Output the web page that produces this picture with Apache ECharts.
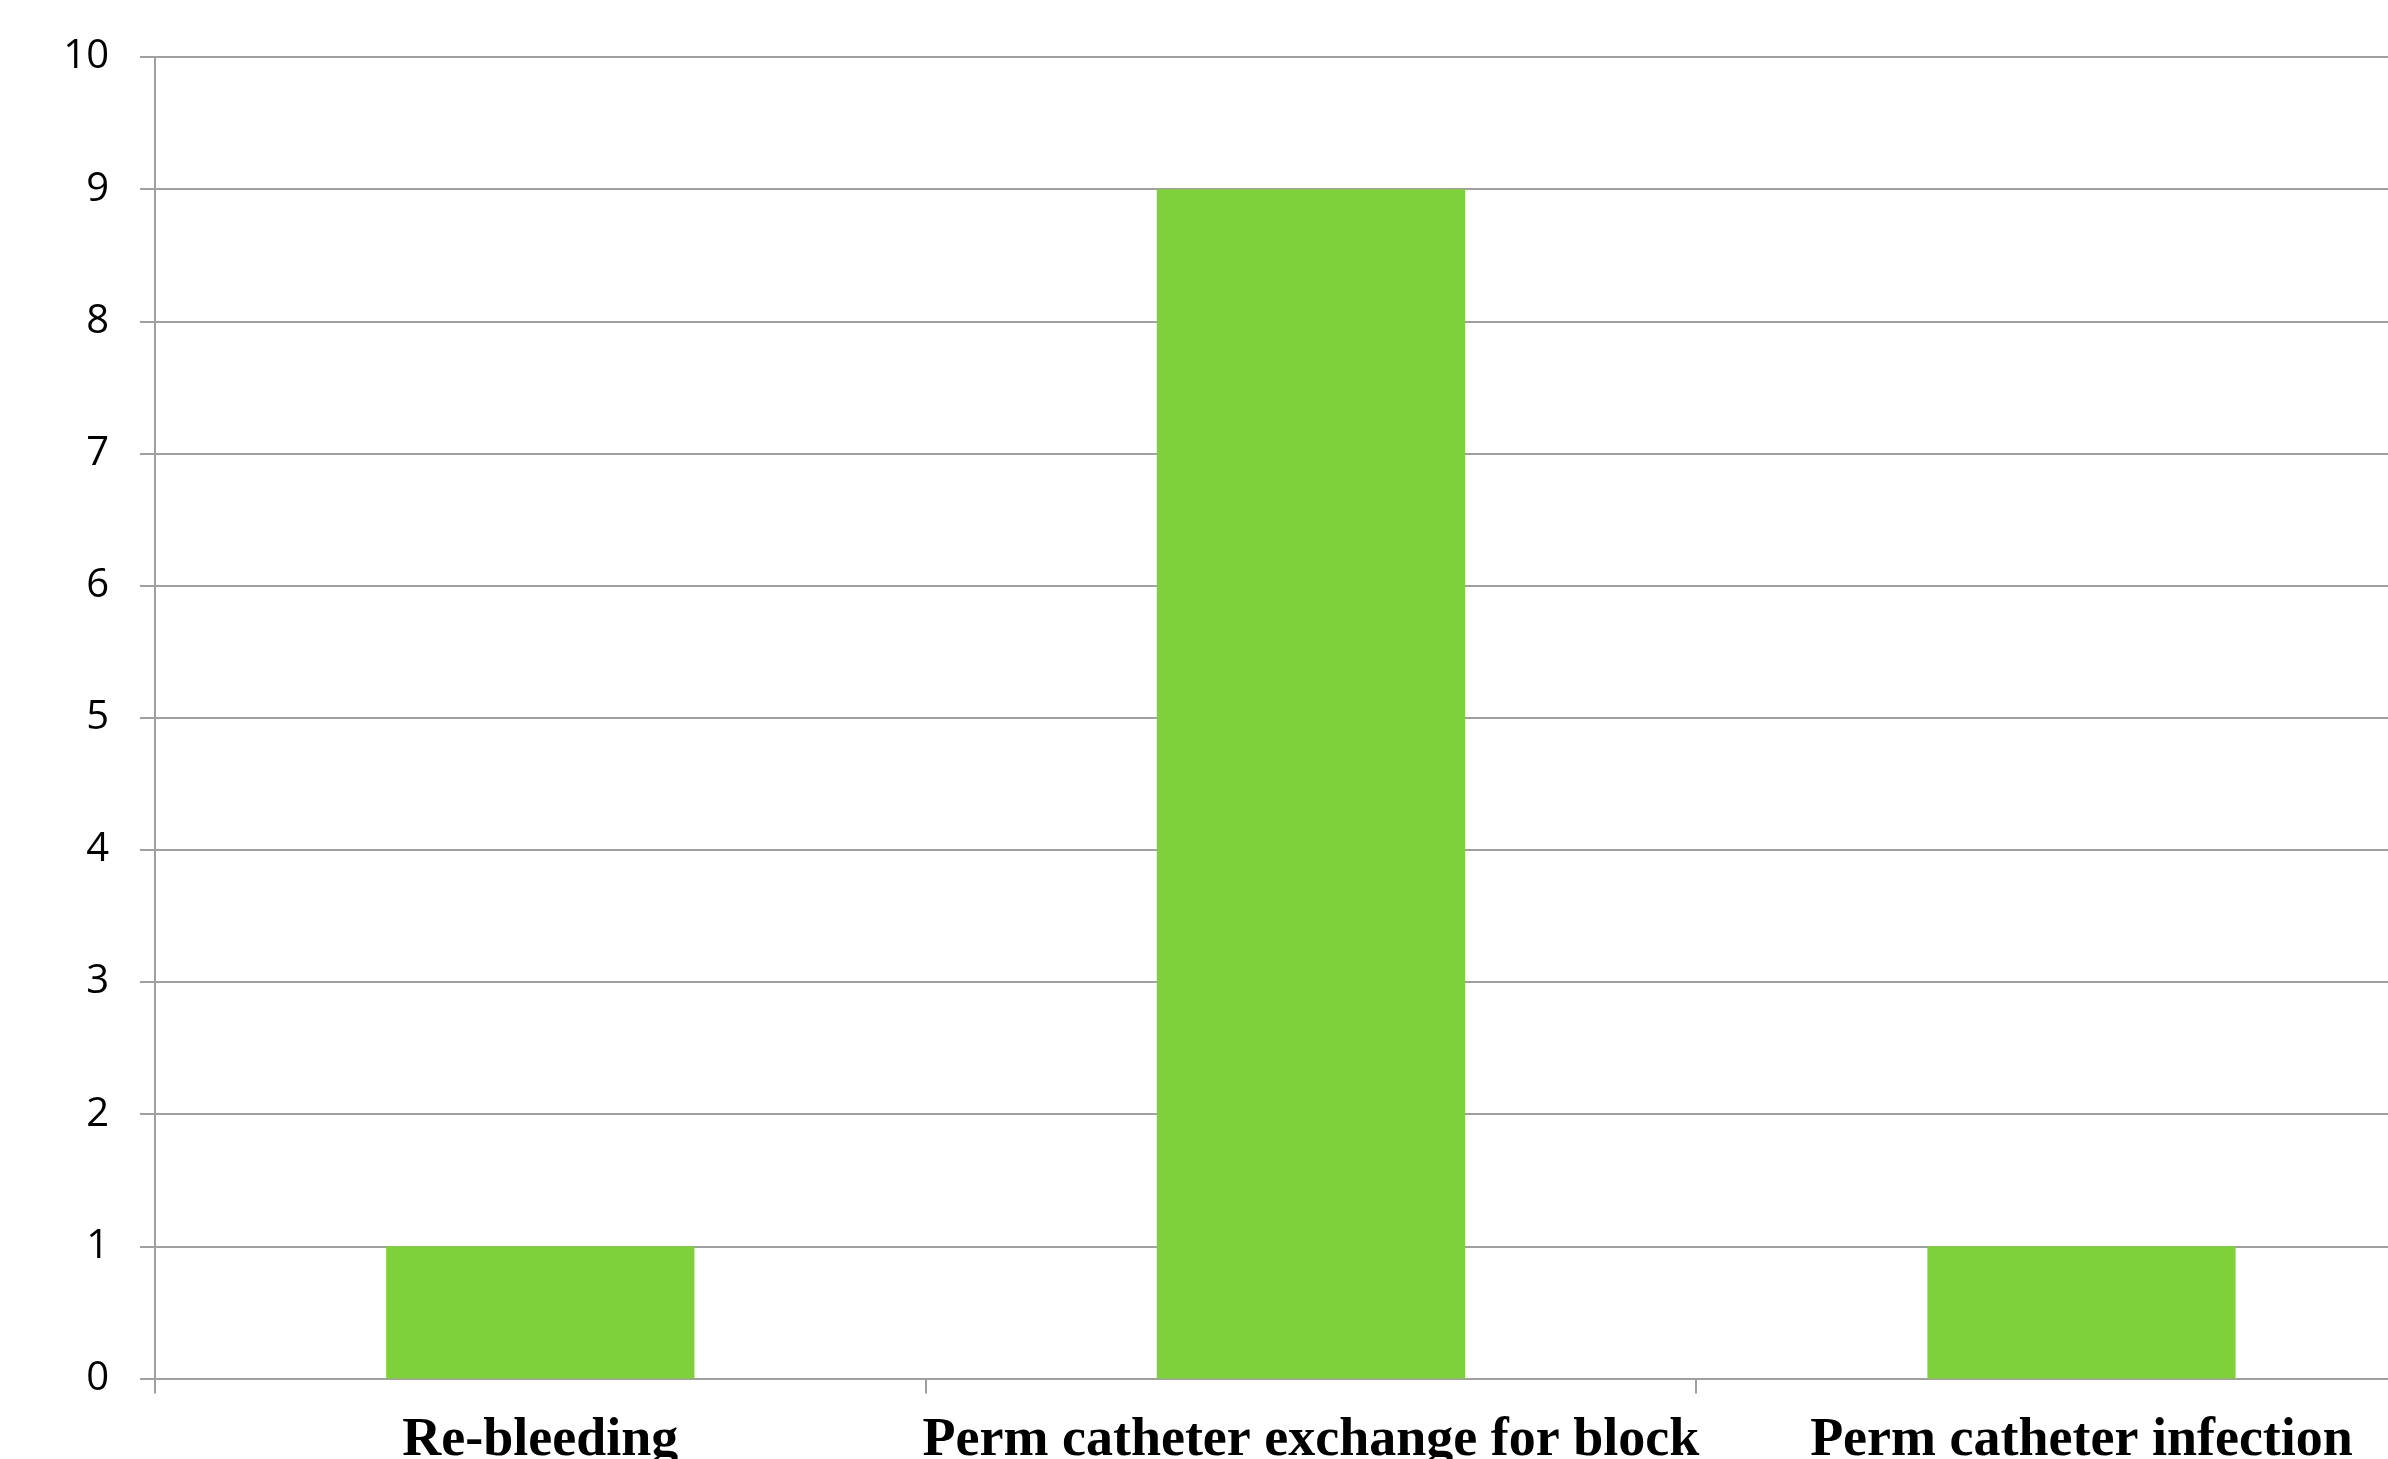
<!DOCTYPE html>
<html>
<head>
<meta charset="utf-8">
<script src="https://cdn.jsdelivr.net/npm/echarts@6/dist/echarts.min.js"></script>
<style>
html,body{margin:0;padding:0;background:#fff;overflow:hidden;width:2388px;height:1459px;}
#chart{width:2520px;height:1459px;}
</style>
</head>
<body>
<div id="chart"></div>
<script>
const categories = ['Re-bleeding', 'Perm catheter exchange for block', 'Perm catheter infection'];
const values = [1, 9, 1];
const yTicks = [0, 1, 2, 3, 4, 5, 6, 7, 8, 9, 10];

const chart = echarts.init(document.getElementById('chart'), null, {renderer: 'canvas'});
const grey = '#a0a0a0';
chart.setOption({
  animation: false,
  backgroundColor: '#ffffff',
  grid: {
    left: 155, right: 2520 - 155 - 3 * 770.6, top: 57, bottom: 1459 - 1378.5,
    containLabel: false, outerBoundsMode: 'none'
  },
  xAxis: {
    type: 'category',
    data: categories,
    axisLine: {show: true, lineStyle: {color: grey, width: 2}},
    axisTick: {show: true, length: 15, lineStyle: {color: grey, width: 2}},
    axisLabel: {
      interval: 0, margin: 36, color: '#000',
      fontFamily: '"Liberation Serif", "Times New Roman", serif',
      fontWeight: 'bold', fontSize: 54
    },
    splitLine: {show: false}
  },
  yAxis: {
    type: 'value',
    min: yTicks[0], max: yTicks[yTicks.length - 1], interval: 1,
    axisLine: {show: true, lineStyle: {color: grey, width: 2}},
    axisTick: {show: true, length: 15, lineStyle: {color: grey, width: 2}},
    axisLabel: {
      margin: 46, color: '#000',
      fontFamily: '"Open Sans", "Noto Sans", sans-serif', fontSize: 40
    },
    splitLine: {show: true, lineStyle: {color: grey, width: 2}}
  },
  series: [{
    type: 'bar',
    data: values,
    barCategoryGap: '60%',
    itemStyle: {color: '#7FD13B'}
  }]
});
</script>
</body>
</html>
